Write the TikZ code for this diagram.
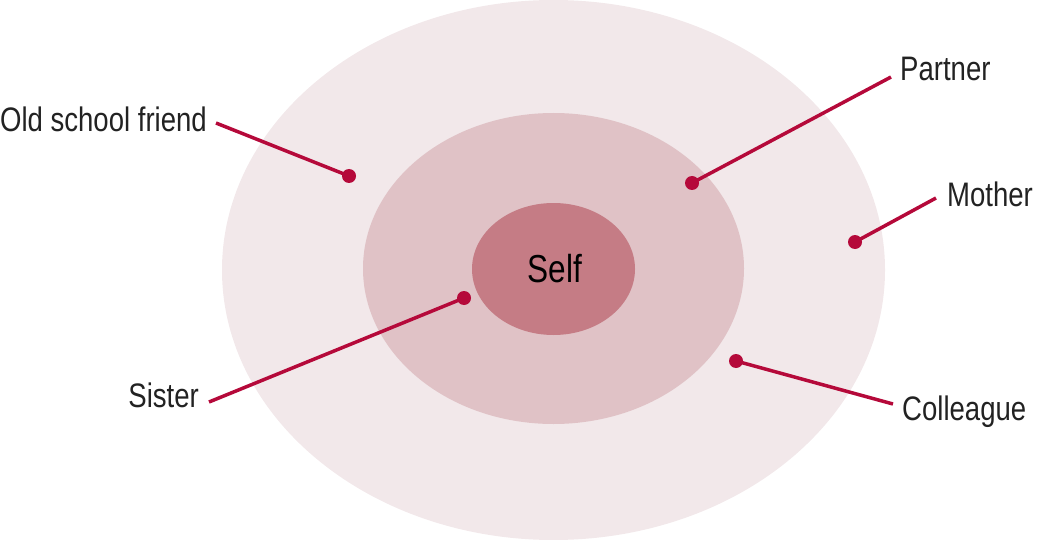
\documentclass[tikz,border=0pt]{standalone}
\usepackage{fontspec}
\setmainfont{Liberation Sans}[FakeStretch=0.81]
\definecolor{outerc}{HTML}{F2E8EA}
\definecolor{midc}{HTML}{E0C2C6}
\definecolor{innerc}{HTML}{C57C85}
\definecolor{linec}{HTML}{B5093A}
\definecolor{textc}{HTML}{222222}
\tikzset{
  lbl/.style={inner sep=0pt, text=textc, font=\fontsize{34}{40}\selectfont},
  dot/.style={circle, fill=linec, minimum size=14pt, inner sep=0pt},
  lead/.style={draw=linec, line width=3.5pt}
}
\begin{document}
\begin{tikzpicture}[x=1pt,y=-1pt]
\useasboundingbox (0,0) rectangle (1038,540);
\fill[outerc] (553.5,270) ellipse [x radius=331.5, y radius=270];
\fill[midc] (553.5,268.5) ellipse [x radius=190.5, y radius=155.5];
\fill[innerc] (553.5,269) ellipse [x radius=81.5, y radius=66];
\node[lbl, anchor=base, font=\fontsize{39}{44}\selectfont, text=black] (self) at (555,282) {Self};

\node[lbl, anchor=base east] (osf) at (207,132) {Old school friend};
\node[lbl, anchor=base west] (partner) at (900,81) {Partner};
\node[lbl, anchor=base west] (mother) at (947,207) {Mother};
\node[lbl, anchor=base west] (colleague) at (902,420) {Colleague};
\node[lbl, anchor=base east] (sister) at (199,407) {Sister};

\node[dot] (dosf) at (349,176) {};
\node[dot] (dpartner) at (692,183) {};
\node[dot] (dmother) at (855,242) {};
\node[dot] (dsister) at (464,298) {};
\node[dot] (dcolleague) at (736,361) {};

\coordinate (eosf) at (216,123);
\coordinate (epartner) at (891,77);
\coordinate (emother) at (936,198);
\coordinate (esister) at (209,402);
\coordinate (ecolleague) at (893,404);

\draw[lead] (eosf) -- (dosf.center);
\draw[lead] (epartner) -- (dpartner.center);
\draw[lead] (emother) -- (dmother.center);
\draw[lead] (esister) -- (dsister.center);
\draw[lead] (ecolleague) -- (dcolleague.center);
\end{tikzpicture}
\end{document}
